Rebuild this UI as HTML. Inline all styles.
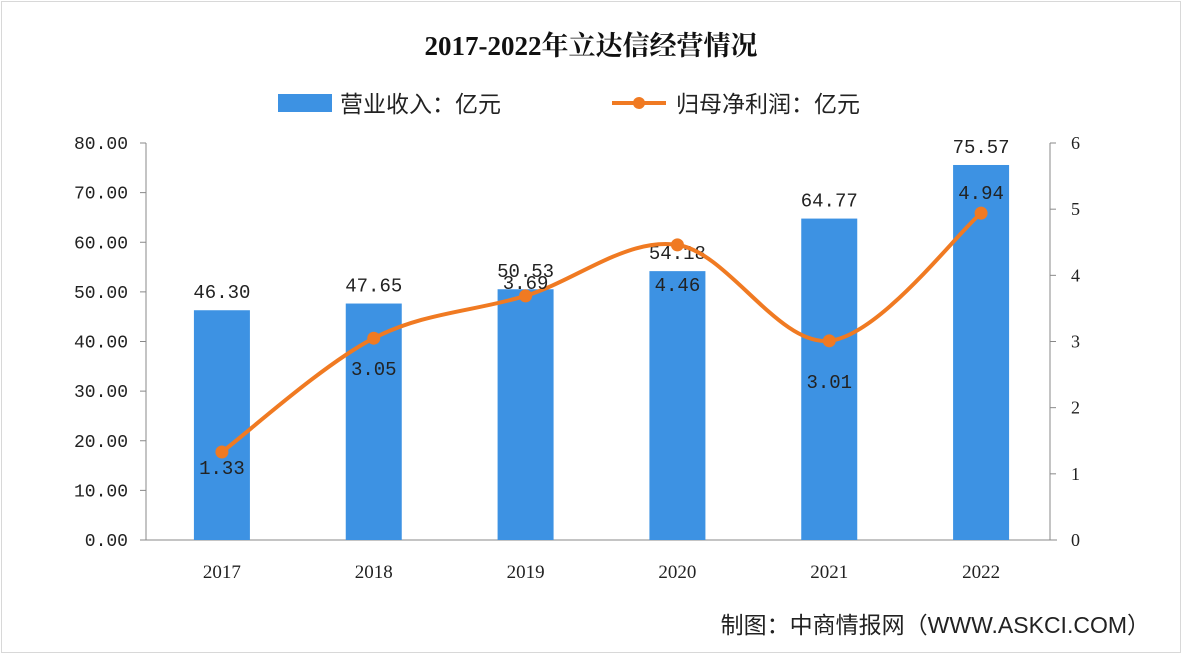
<!DOCTYPE html>
<html><head><meta charset="utf-8">
<style>
html,body{margin:0;padding:0;background:#fff;}
body{width:1182px;height:654px;overflow:hidden;position:relative;}
.frame{position:absolute;left:1px;top:1px;width:1178px;height:650px;border:1px solid #d8d8d8;}
</style></head>
<body>
<div class="frame"></div>
<svg id="chart" width="1182" height="654" style="position:absolute;left:0;top:0">
<text x="591" y="55" text-anchor="middle" font-family="'Liberation Serif','Noto Serif CJK SC',serif" font-weight="bold" font-size="27" fill="#111">2017-2022年立达信经营情况</text>
<g>
<rect x="278" y="94" width="54" height="18" fill="#3d92e3"/>
<text x="340" y="112" font-family="'Liberation Sans','Noto Sans CJK SC',sans-serif" font-size="23" fill="#222">营业收入：亿元</text>
<line x1="612" y1="103" x2="666" y2="103" stroke="#f07a22" stroke-width="4"/>
<circle cx="639" cy="103" r="6" fill="#f07a22"/>
<text x="676" y="112" font-family="'Liberation Sans','Noto Sans CJK SC',sans-serif" font-size="23" fill="#222">归母净利润：亿元</text>
</g>
<text x="1150" y="633" text-anchor="end" font-family="'Liberation Sans','Noto Sans CJK SC',sans-serif" font-size="23" fill="#222">制图：中商情报网（WWW.ASKCI.COM）</text>
</svg>
<script>
const categories=['2017','2018','2019','2020','2021','2022'];
const revenue=[46.30,47.65,50.53,54.18,64.77,75.57];
const profit=[1.33,3.05,3.69,4.46,3.01,4.94];
const leftTicks=[0,10,20,30,40,50,60,70,80];
const rightTicks=[0,1,2,3,4,5,6];
// label placement (style, not data): vertical offset of profit labels from points
const profitLabelDy=[22,37,-7,46,47,-14];

const svg=document.getElementById('chart');
const NS='http://www.w3.org/2000/svg';
const L=146,R=1057,T=143,B=540;
const step=(R-L)/categories.length;
const xc=i=>L+step*(i+0.5);
const yL=v=>B-(v/80)*(B-T);
const yR=v=>B-(v/6)*(B-T);
function mk(tag,attrs,txt){const e=document.createElementNS(NS,tag);for(const k in attrs)e.setAttribute(k,attrs[k]);if(txt!==undefined)e.textContent=txt;svg.appendChild(e);return e;}
const mono="'Liberation Mono',monospace";
const serif="'Liberation Serif',serif";

let a=mk('line',{x1:L,y1:T,x2:L,y2:B,stroke:'#888'});


a=mk('line',{x1:1050,y1:T,x2:1050,y2:B,stroke:'#888'});


a=mk('line',{x1:L,y1:B,x2:R,y2:B,stroke:'#888'});



leftTicks.forEach(v=>{
 const t=mk('text',{x:128,y:yL(v)+6,'text-anchor':'end','font-family':mono,'font-size':18,fill:'#222'},v.toFixed(2));
 
 
 const k=mk('line',{x1:L-6,y1:yL(v),x2:L,y2:yL(v),stroke:'#888'});
 
 
});
rightTicks.forEach(v=>{
 const t=mk('text',{x:1071,y:yR(v)+6,'font-family':serif,'font-size':18,fill:'#222'},String(v));
 
 
 const k=mk('line',{x1:1050,y1:yR(v),x2:1056,y2:yR(v),stroke:'#888'});
 
 
});
categories.forEach((c,i)=>{
 const t=mk('text',{x:xc(i),y:578,'text-anchor':'middle','font-family':serif,'font-size':19,fill:'#222'},c);
 
 
});
const bw=56;
revenue.forEach((v,i)=>{
 const r=mk('rect',{x:xc(i)-bw/2,y:yL(v),width:bw,height:B-yL(v),fill:'#3d92e3'});
 
 
 const t=mk('text',{x:xc(i),y:yL(v)-12,'text-anchor':'middle','font-family':mono,'font-size':19,fill:'#222'},v.toFixed(2));
 
 
});
const pts=profit.map((v,i)=>[xc(i),yR(v)]);
let d='M'+pts[0][0]+','+pts[0][1];
for(let i=0;i<pts.length-1;i++){
 const p0=pts[Math.max(0,i-1)],p1=pts[i],p2=pts[i+1],p3=pts[Math.min(pts.length-1,i+2)];
 const c1=[p1[0]+(p2[0]-p0[0])/6,p1[1]+(p2[1]-p0[1])/6];
 const c2=[p2[0]-(p3[0]-p1[0])/6,p2[1]-(p3[1]-p1[1])/6];
 d+=` C${c1[0]},${c1[1]} ${c2[0]},${c2[1]} ${p2[0]},${p2[1]}`;
}
const line=mk('path',{d:d,fill:'none',stroke:'#f07a22','stroke-width':4});


pts.forEach((p,i)=>{
 const c=mk('circle',{cx:p[0],cy:p[1],r:6.5,fill:'#f07a22'});
 
 
 const t=mk('text',{x:p[0],y:p[1]+profitLabelDy[i],'text-anchor':'middle','font-family':mono,'font-size':19,fill:'#222'},profit[i].toFixed(2));
 
 
});
</script>
</body></html>
